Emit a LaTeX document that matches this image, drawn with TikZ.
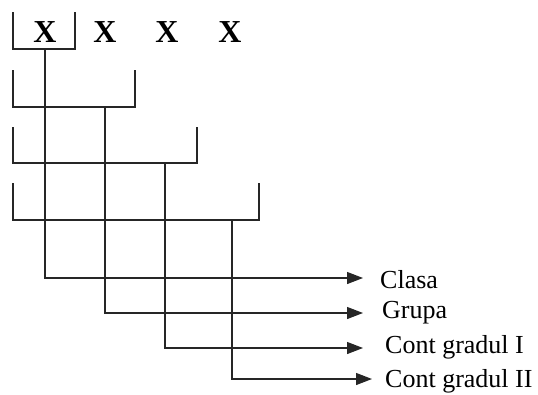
\documentclass[tikz,border=0pt]{standalone}
\usepackage{fontspec}
\setmainfont{Liberation Serif}
\usetikzlibrary{arrows.meta}
\begin{document}
\begin{tikzpicture}[x=1pt,y=-1pt,
  line/.style={line width=1.3pt, draw=black!85},
  arr/.style={line, -{Triangle[length=16pt,width=12pt]}},
  lab/.style={anchor=base west, inner sep=0pt, font=\fontsize{26}{28}\selectfont},
  xl/.style={anchor=base, inner sep=0pt, font=\fontsize{32}{34}\selectfont\bfseries}]
\useasboundingbox (0,0) rectangle (538,394);
% letters
\node[xl] (x1) at (45,42) {X};
\node[xl] (x2) at (105,42) {X};
\node[xl] (x3) at (167,42) {X};
\node[xl] (x4) at (230,42) {X};
% bracket corners
\coordinate (b1l) at (13,12);  \coordinate (b1r) at (75,12);  \coordinate (b1c) at (75,49);
\coordinate (b2l) at (13,70);  \coordinate (b2r) at (135,70); \coordinate (b2c) at (135,107);
\coordinate (b3l) at (13,127); \coordinate (b3r) at (197,127); \coordinate (b3c) at (197,163);
\coordinate (b4l) at (13,183); \coordinate (b4r) at (259,183); \coordinate (b4c) at (259,220);
\draw[line] (b1l) |- (b1c) -- (b1r);
\draw[line] (b2l) |- (b2c) -- (b2r);
\draw[line] (b3l) |- (b3c) -- (b3r);
\draw[line] (b4l) |- (b4c) -- (b4r);
% branch tops
\coordinate (v1) at (45,49);
\coordinate (v2) at (105,107);
\coordinate (v3) at (165,163);
\coordinate (v4) at (232,220);
% arrow ends
\coordinate (e1) at (363,278);
\coordinate (e2) at (363,313);
\coordinate (e3) at (363,348);
\coordinate (e4) at (372,379);
\draw[arr] (v1) |- (e1);
\draw[arr] (v2) |- (e2);
\draw[arr] (v3) |- (e3);
\draw[arr] (v4) |- (e4);
% labels
\node[lab] (l1) at (380,288) {Clasa};
\node[lab] (l2) at (382,318) {Grupa};
\node[lab] (l3) at (385,353) {Cont gradul I};
\node[lab] (l4) at (385,387) {Cont gradul II};
\end{tikzpicture}
\end{document}
